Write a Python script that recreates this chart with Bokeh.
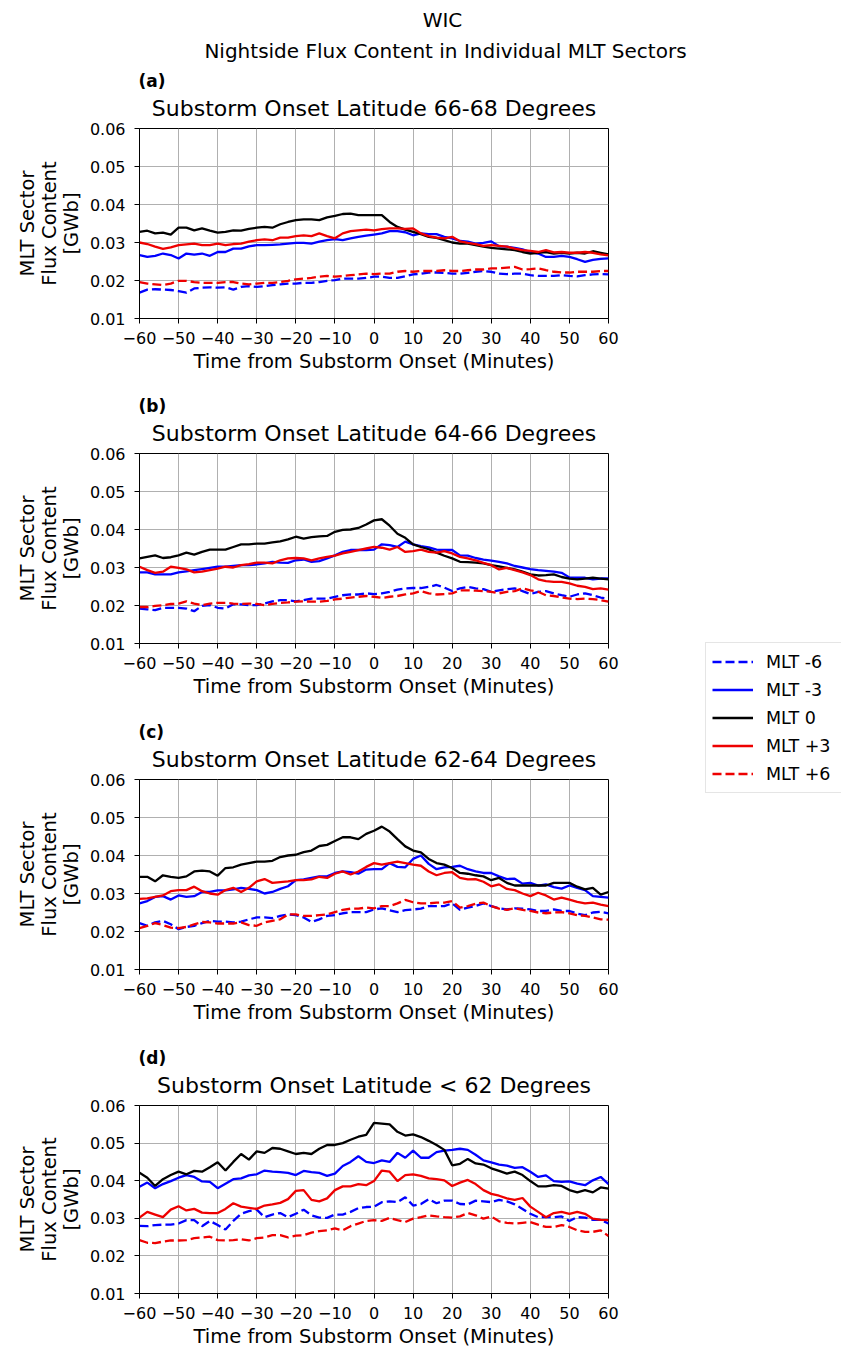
from bokeh.plotting import figure
from bokeh.models import (Range1d, FixedTicker, PrintfTickFormatter, CustomJSTickFormatter,
                          Legend, LegendItem)
from bokeh.core.properties import value
from bokeh.layouts import row, column
from bokeh.embed import file_html
from bokeh.resources import INLINE

FONT = "DejaVu Sans"

# ---------------- data ----------------
minutes = list(range(-60, 61, 2))

sector_labels = ["MLT -6", "MLT -3", "MLT 0", "MLT +3", "MLT +6"]
panel_tags = ["(a)", "(b)", "(c)", "(d)"]
panel_titles = ["Substorm Onset Latitude 66-68 Degrees",
                "Substorm Onset Latitude 64-66 Degrees",
                "Substorm Onset Latitude 62-64 Degrees",
                "Substorm Onset Latitude < 62 Degrees"]
main_title = ["WIC", "Nightside Flux Content in Individual MLT Sectors"]
x_ticks = [-60, -50, -40, -30, -20, -10, 0, 10, 20, 30, 40, 50, 60]
y_ticks = [0.01, 0.02, 0.03, 0.04, 0.05, 0.06]

# Panel (a) 66-68
a_m6 = [0.0168, 0.0176, 0.0177, 0.0176, 0.0175, 0.0172, 0.0168, 0.0179, 0.0181, 0.0182,
        0.0181, 0.0182, 0.0176, 0.0183, 0.0185, 0.0183, 0.0185, 0.0188, 0.0190, 0.0192,
        0.0192, 0.0194, 0.0194, 0.0196, 0.0199, 0.0201, 0.0205, 0.0205, 0.0205, 0.0207,
        0.0210, 0.0210, 0.0207, 0.0207, 0.0211, 0.0216, 0.0218, 0.0221, 0.0221, 0.0220,
        0.0218, 0.0218, 0.0220, 0.0223, 0.0225, 0.0223, 0.0218, 0.0217, 0.0218, 0.0218,
        0.0214, 0.0212, 0.0212, 0.0212, 0.0214, 0.0212, 0.0211, 0.0214, 0.0216, 0.0217,
        0.0216]
a_m3 = [0.0267, 0.0262, 0.0265, 0.0271, 0.0267, 0.0258, 0.0271, 0.0268, 0.0271, 0.0265,
        0.0275, 0.0275, 0.0284, 0.0284, 0.0290, 0.0293, 0.0293, 0.0294, 0.0295, 0.0297,
        0.0299, 0.0299, 0.0297, 0.0302, 0.0306, 0.0309, 0.0306, 0.0311, 0.0315, 0.0318,
        0.0321, 0.0324, 0.0330, 0.0330, 0.0327, 0.0319, 0.0324, 0.0322, 0.0322, 0.0315,
        0.0311, 0.0304, 0.0302, 0.0297, 0.0299, 0.0303, 0.0290, 0.0289, 0.0286, 0.0282,
        0.0275, 0.0271, 0.0262, 0.0262, 0.0265, 0.0262, 0.0256, 0.0249, 0.0254, 0.0257,
        0.0258]
a_0 = [0.0328, 0.0331, 0.0324, 0.0326, 0.0321, 0.0339, 0.0339, 0.0332, 0.0337, 0.0331,
       0.0326, 0.0328, 0.0332, 0.0331, 0.0336, 0.0339, 0.0341, 0.0339, 0.0348, 0.0354,
       0.0359, 0.0361, 0.0361, 0.0359, 0.0366, 0.0370, 0.0375, 0.0376, 0.0372, 0.0372,
       0.0372, 0.0372, 0.0354, 0.0341, 0.0334, 0.0328, 0.0322, 0.0315, 0.0312, 0.0306,
       0.0300, 0.0297, 0.0297, 0.0293, 0.0289, 0.0286, 0.0284, 0.0282, 0.0280, 0.0275,
       0.0271, 0.0273, 0.0275, 0.0271, 0.0273, 0.0271, 0.0273, 0.0271, 0.0277, 0.0273,
       0.0269]
a_p3 = [0.0300, 0.0296, 0.0289, 0.0283, 0.0287, 0.0293, 0.0295, 0.0297, 0.0293, 0.0293,
        0.0297, 0.0293, 0.0296, 0.0297, 0.0302, 0.0306, 0.0308, 0.0306, 0.0313, 0.0313,
        0.0317, 0.0319, 0.0317, 0.0324, 0.0317, 0.0311, 0.0324, 0.0330, 0.0332, 0.0334,
        0.0332, 0.0335, 0.0337, 0.0337, 0.0336, 0.0337, 0.0324, 0.0317, 0.0313, 0.0311,
        0.0315, 0.0303, 0.0299, 0.0296, 0.0291, 0.0293, 0.0291, 0.0289, 0.0284, 0.0280,
        0.0278, 0.0275, 0.0280, 0.0274, 0.0275, 0.0273, 0.0273, 0.0275, 0.0273, 0.0269,
        0.0266]
a_p6 = [0.0196, 0.0192, 0.0190, 0.0188, 0.0192, 0.0199, 0.0199, 0.0196, 0.0194, 0.0194,
        0.0194, 0.0196, 0.0196, 0.0192, 0.0190, 0.0192, 0.0194, 0.0194, 0.0196, 0.0199,
        0.0203, 0.0205, 0.0207, 0.0210, 0.0212, 0.0210, 0.0212, 0.0214, 0.0216, 0.0218,
        0.0217, 0.0218, 0.0218, 0.0223, 0.0225, 0.0223, 0.0225, 0.0225, 0.0225, 0.0227,
        0.0225, 0.0225, 0.0227, 0.0229, 0.0229, 0.0232, 0.0232, 0.0234, 0.0236, 0.0229,
        0.0230, 0.0232, 0.0227, 0.0223, 0.0221, 0.0221, 0.0223, 0.0223, 0.0223, 0.0225,
        0.0225]

# Panel (b) 64-66
b_m6 = [0.0192, 0.0190, 0.0188, 0.0194, 0.0194, 0.0194, 0.0192, 0.0185, 0.0199, 0.0201,
        0.0194, 0.0192, 0.0203, 0.0203, 0.0201, 0.0201, 0.0205, 0.0211, 0.0214, 0.0214,
        0.0211, 0.0214, 0.0218, 0.0218, 0.0218, 0.0223, 0.0227, 0.0229, 0.0229, 0.0232,
        0.0230, 0.0232, 0.0236, 0.0242, 0.0245, 0.0246, 0.0246, 0.0249, 0.0254, 0.0247,
        0.0238, 0.0245, 0.0249, 0.0245, 0.0243, 0.0236, 0.0240, 0.0243, 0.0245, 0.0238,
        0.0230, 0.0236, 0.0238, 0.0232, 0.0227, 0.0223, 0.0229, 0.0232, 0.0227, 0.0221,
        0.0218]
b_m3 = [0.0287, 0.0287, 0.0282, 0.0282, 0.0282, 0.0287, 0.0290, 0.0293, 0.0296, 0.0299,
        0.0302, 0.0302, 0.0304, 0.0306, 0.0306, 0.0308, 0.0311, 0.0315, 0.0313, 0.0312,
        0.0319, 0.0321, 0.0315, 0.0317, 0.0324, 0.0332, 0.0341, 0.0346, 0.0346, 0.0346,
        0.0347, 0.0361, 0.0359, 0.0354, 0.0368, 0.0361, 0.0356, 0.0353, 0.0347, 0.0346,
        0.0346, 0.0332, 0.0331, 0.0325, 0.0321, 0.0318, 0.0315, 0.0311, 0.0304, 0.0300,
        0.0296, 0.0293, 0.0291, 0.0289, 0.0286, 0.0274, 0.0273, 0.0273, 0.0269, 0.0271,
        0.0271]
b_0 = [0.0324, 0.0328, 0.0332, 0.0325, 0.0327, 0.0332, 0.0339, 0.0334, 0.0341, 0.0347,
       0.0347, 0.0347, 0.0354, 0.0361, 0.0361, 0.0363, 0.0363, 0.0366, 0.0369, 0.0374,
       0.0381, 0.0376, 0.0380, 0.0382, 0.0383, 0.0394, 0.0399, 0.0400, 0.0404, 0.0413,
       0.0424, 0.0427, 0.0410, 0.0389, 0.0378, 0.0361, 0.0354, 0.0348, 0.0339, 0.0331,
       0.0324, 0.0315, 0.0314, 0.0313, 0.0311, 0.0306, 0.0303, 0.0299, 0.0295, 0.0289,
       0.0282, 0.0279, 0.0280, 0.0282, 0.0275, 0.0271, 0.0269, 0.0271, 0.0273, 0.0271,
       0.0269]
b_p3 = [0.0302, 0.0293, 0.0286, 0.0289, 0.0302, 0.0299, 0.0295, 0.0287, 0.0289, 0.0293,
        0.0297, 0.0302, 0.0300, 0.0306, 0.0309, 0.0313, 0.0313, 0.0311, 0.0319, 0.0324,
        0.0325, 0.0324, 0.0319, 0.0324, 0.0328, 0.0331, 0.0337, 0.0341, 0.0346, 0.0350,
        0.0354, 0.0352, 0.0347, 0.0354, 0.0341, 0.0343, 0.0347, 0.0341, 0.0339, 0.0343,
        0.0337, 0.0328, 0.0324, 0.0319, 0.0312, 0.0306, 0.0295, 0.0299, 0.0293, 0.0287,
        0.0280, 0.0269, 0.0264, 0.0262, 0.0262, 0.0258, 0.0252, 0.0249, 0.0243, 0.0245,
        0.0242]
b_p6 = [0.0196, 0.0196, 0.0199, 0.0201, 0.0204, 0.0205, 0.0211, 0.0205, 0.0201, 0.0205,
        0.0207, 0.0207, 0.0205, 0.0204, 0.0205, 0.0204, 0.0201, 0.0204, 0.0207, 0.0208,
        0.0210, 0.0211, 0.0210, 0.0210, 0.0212, 0.0216, 0.0218, 0.0221, 0.0223, 0.0225,
        0.0223, 0.0220, 0.0223, 0.0225, 0.0229, 0.0232, 0.0238, 0.0232, 0.0229, 0.0230,
        0.0232, 0.0240, 0.0240, 0.0239, 0.0238, 0.0236, 0.0232, 0.0236, 0.0238, 0.0245,
        0.0240, 0.0236, 0.0227, 0.0225, 0.0221, 0.0218, 0.0217, 0.0218, 0.0217, 0.0214,
        0.0210]

# Panel (c) 62-64
c_m6 = [0.0222, 0.0215, 0.0224, 0.0228, 0.0219, 0.0206, 0.0212, 0.0215, 0.0222, 0.0228,
        0.0226, 0.0226, 0.0224, 0.0226, 0.0232, 0.0237, 0.0237, 0.0235, 0.0241, 0.0245,
        0.0243, 0.0237, 0.0225, 0.0232, 0.0241, 0.0243, 0.0248, 0.0251, 0.0251, 0.0251,
        0.0258, 0.0261, 0.0256, 0.0251, 0.0256, 0.0258, 0.0260, 0.0267, 0.0267, 0.0267,
        0.0274, 0.0257, 0.0263, 0.0267, 0.0274, 0.0267, 0.0261, 0.0258, 0.0261, 0.0260,
        0.0258, 0.0254, 0.0254, 0.0258, 0.0254, 0.0254, 0.0247, 0.0243, 0.0250, 0.0252,
        0.0248]
c_m3 = [0.0274, 0.0280, 0.0291, 0.0293, 0.0284, 0.0295, 0.0291, 0.0293, 0.0304, 0.0304,
        0.0308, 0.0308, 0.0311, 0.0315, 0.0312, 0.0309, 0.0300, 0.0304, 0.0312, 0.0319,
        0.0335, 0.0337, 0.0341, 0.0345, 0.0345, 0.0354, 0.0358, 0.0356, 0.0352, 0.0363,
        0.0364, 0.0364, 0.0380, 0.0370, 0.0369, 0.0391, 0.0400, 0.0378, 0.0364, 0.0369,
        0.0370, 0.0373, 0.0364, 0.0358, 0.0354, 0.0354, 0.0345, 0.0338, 0.0339, 0.0326,
        0.0328, 0.0321, 0.0324, 0.0317, 0.0313, 0.0321, 0.0315, 0.0309, 0.0293, 0.0291,
        0.0289]
c_0 = [0.0344, 0.0344, 0.0332, 0.0348, 0.0344, 0.0341, 0.0345, 0.0358, 0.0360, 0.0358,
       0.0347, 0.0367, 0.0369, 0.0376, 0.0380, 0.0384, 0.0384, 0.0386, 0.0396, 0.0400,
       0.0402, 0.0409, 0.0413, 0.0425, 0.0428, 0.0438, 0.0448, 0.0448, 0.0443, 0.0457,
       0.0465, 0.0476, 0.0463, 0.0443, 0.0424, 0.0413, 0.0408, 0.0391, 0.0380, 0.0376,
       0.0367, 0.0354, 0.0352, 0.0348, 0.0345, 0.0335, 0.0341, 0.0328, 0.0321, 0.0321,
       0.0321, 0.0321, 0.0321, 0.0328, 0.0328, 0.0328, 0.0318, 0.0311, 0.0315, 0.0297,
       0.0304]
c_p3 = [0.0286, 0.0287, 0.0291, 0.0295, 0.0306, 0.0309, 0.0309, 0.0318, 0.0306, 0.0300,
        0.0297, 0.0309, 0.0315, 0.0304, 0.0315, 0.0332, 0.0338, 0.0328, 0.0330, 0.0332,
        0.0335, 0.0335, 0.0337, 0.0344, 0.0341, 0.0352, 0.0358, 0.0350, 0.0358, 0.0370,
        0.0380, 0.0376, 0.0380, 0.0384, 0.0380, 0.0376, 0.0373, 0.0358, 0.0348, 0.0354,
        0.0356, 0.0341, 0.0337, 0.0338, 0.0331, 0.0319, 0.0324, 0.0312, 0.0309, 0.0300,
        0.0293, 0.0302, 0.0295, 0.0284, 0.0289, 0.0284, 0.0278, 0.0274, 0.0276, 0.0271,
        0.0267]
c_p6 = [0.0209, 0.0215, 0.0222, 0.0217, 0.0210, 0.0209, 0.0212, 0.0219, 0.0225, 0.0224,
        0.0221, 0.0221, 0.0221, 0.0224, 0.0217, 0.0215, 0.0224, 0.0228, 0.0232, 0.0245,
        0.0245, 0.0241, 0.0241, 0.0243, 0.0245, 0.0251, 0.0257, 0.0260, 0.0260, 0.0263,
        0.0261, 0.0267, 0.0267, 0.0274, 0.0283, 0.0277, 0.0274, 0.0274, 0.0276, 0.0276,
        0.0280, 0.0263, 0.0267, 0.0273, 0.0276, 0.0267, 0.0260, 0.0257, 0.0261, 0.0257,
        0.0254, 0.0250, 0.0248, 0.0250, 0.0251, 0.0248, 0.0243, 0.0241, 0.0237, 0.0232,
        0.0231]

# Panel (d) < 62
d_m6 = [0.0280, 0.0279, 0.0282, 0.0283, 0.0283, 0.0286, 0.0295, 0.0295, 0.0279, 0.0293,
        0.0282, 0.0270, 0.0293, 0.0312, 0.0319, 0.0323, 0.0303, 0.0310, 0.0314, 0.0303,
        0.0312, 0.0323, 0.0308, 0.0302, 0.0301, 0.0310, 0.0310, 0.0317, 0.0327, 0.0330,
        0.0331, 0.0343, 0.0345, 0.0343, 0.0356, 0.0334, 0.0338, 0.0351, 0.0340, 0.0347,
        0.0347, 0.0338, 0.0337, 0.0347, 0.0345, 0.0343, 0.0349, 0.0345, 0.0337, 0.0325,
        0.0312, 0.0303, 0.0303, 0.0303, 0.0305, 0.0293, 0.0303, 0.0302, 0.0296, 0.0296,
        0.0286]
d_m3 = [0.0384, 0.0395, 0.0380, 0.0391, 0.0399, 0.0408, 0.0415, 0.0410, 0.0398, 0.0397,
        0.0380, 0.0392, 0.0404, 0.0406, 0.0414, 0.0417, 0.0427, 0.0424, 0.0423, 0.0421,
        0.0415, 0.0426, 0.0423, 0.0421, 0.0413, 0.0419, 0.0439, 0.0450, 0.0465, 0.0450,
        0.0447, 0.0454, 0.0450, 0.0474, 0.0461, 0.0480, 0.0461, 0.0461, 0.0476, 0.0480,
        0.0482, 0.0485, 0.0482, 0.0469, 0.0454, 0.0449, 0.0443, 0.0440, 0.0434, 0.0436,
        0.0424, 0.0410, 0.0414, 0.0399, 0.0397, 0.0398, 0.0392, 0.0388, 0.0401, 0.0410,
        0.0391]
d_0 = [0.0421, 0.0408, 0.0386, 0.0404, 0.0415, 0.0424, 0.0417, 0.0426, 0.0424, 0.0436,
       0.0449, 0.0427, 0.0450, 0.0471, 0.0456, 0.0478, 0.0474, 0.0487, 0.0485, 0.0478,
       0.0471, 0.0474, 0.0471, 0.0485, 0.0495, 0.0495, 0.0500, 0.0509, 0.0517, 0.0522,
       0.0554, 0.0552, 0.0550, 0.0530, 0.0520, 0.0523, 0.0516, 0.0506, 0.0495, 0.0482,
       0.0441, 0.0445, 0.0458, 0.0446, 0.0443, 0.0433, 0.0426, 0.0419, 0.0424, 0.0415,
       0.0399, 0.0385, 0.0385, 0.0388, 0.0386, 0.0375, 0.0369, 0.0375, 0.0369, 0.0382,
       0.0379]
d_p3 = [0.0302, 0.0317, 0.0310, 0.0303, 0.0323, 0.0332, 0.0321, 0.0325, 0.0315, 0.0314,
        0.0314, 0.0325, 0.0340, 0.0331, 0.0328, 0.0325, 0.0334, 0.0337, 0.0341, 0.0351,
        0.0373, 0.0375, 0.0349, 0.0345, 0.0353, 0.0375, 0.0385, 0.0385, 0.0391, 0.0388,
        0.0399, 0.0427, 0.0424, 0.0399, 0.0415, 0.0417, 0.0413, 0.0406, 0.0404, 0.0401,
        0.0386, 0.0395, 0.0402, 0.0391, 0.0375, 0.0365, 0.0360, 0.0353, 0.0349, 0.0354,
        0.0331, 0.0317, 0.0303, 0.0314, 0.0317, 0.0312, 0.0317, 0.0312, 0.0299, 0.0296,
        0.0295]
d_p6 = [0.0242, 0.0235, 0.0234, 0.0238, 0.0241, 0.0241, 0.0242, 0.0247, 0.0249, 0.0251,
        0.0242, 0.0241, 0.0242, 0.0244, 0.0241, 0.0247, 0.0249, 0.0255, 0.0255, 0.0249,
        0.0254, 0.0255, 0.0262, 0.0266, 0.0268, 0.0273, 0.0268, 0.0279, 0.0286, 0.0293,
        0.0295, 0.0293, 0.0301, 0.0295, 0.0290, 0.0299, 0.0303, 0.0308, 0.0305, 0.0303,
        0.0302, 0.0305, 0.0314, 0.0308, 0.0299, 0.0305, 0.0292, 0.0288, 0.0286, 0.0288,
        0.0290, 0.0283, 0.0277, 0.0277, 0.0282, 0.0277, 0.0268, 0.0264, 0.0264, 0.0268,
        0.0253]

panels_data = [
    [a_m6, a_m3, a_0, a_p3, a_p6],
    [b_m6, b_m3, b_0, b_p3, b_p6],
    [c_m6, c_m3, c_0, c_p3, c_p6],
    [d_m6, d_m3, d_0, d_p3, d_p6],
]

# ---------------- styles / geometry ----------------
line_colors = ["#0000ff", "#0000ff", "#000000", "#ee0000", "#ee0000"]
line_dashes = ["9 4", "solid", "solid", "solid", "9 4"]
LW = 2.3

PAGE_W = 841
FRAME_H = 190
FRAME_W = 469
LEFT_B = 139
RIGHT_B = 12
COL_W = LEFT_B + FRAME_W + RIGHT_B
TOP_B = 8
header_h = [120, 62, 62, 62]
bottom_b = [65, 66, 66, 55]

x_fmt = CustomJSTickFormatter(code="return tick < 0 ? '\\u2212' + String(-tick) : String(tick);")


def make_header(i, width):
    h = header_h[i]
    hd = figure(width=width, height=h, x_range=Range1d(0, width), y_range=Range1d(h, 0),
                x_axis_type=None, y_axis_type=None, output_backend="svg",
                toolbar_location=None, min_border=0, title=None)
    hd.frame_align = False
    hd.outline_line_color = None
    hd.grid.visible = False
    ft = h + TOP_B  # frame top of the panel below, in header coordinates
    if i == 0:
        hd.text(x=[442, 445], y=[19, 50], text=main_title, text_font=value(FONT),
                text_font_size="20px", text_color="black", text_align="center",
                text_baseline="middle")
    hd.text(x=[LEFT_B - 1], y=[ft - 48], text=[panel_tags[i]], text_font=value(FONT),
            text_font_size="17px", text_font_style="bold", text_color="black",
            text_align="left", text_baseline="middle")
    hd.text(x=[LEFT_B + FRAME_W / 2], y=[ft - 20], text=[panel_titles[i]],
            text_font=value(FONT), text_font_size="22px", text_color="black",
            text_align="center", text_baseline="middle")
    return hd


def make_panel(i):
    h = TOP_B + FRAME_H + bottom_b[i]
    p = figure(width=COL_W, height=h,
               x_range=Range1d(-60, 60), y_range=Range1d(0.01, 0.06),
               output_backend="svg", toolbar_location=None, title=None,
               min_border_left=LEFT_B, min_border_right=RIGHT_B,
               min_border_top=TOP_B, min_border_bottom=bottom_b[i])
    p.background_fill_color = "white"
    p.border_fill_color = "white"
    p.outline_line_color = "black"
    p.outline_line_width = 1
    p.outline_line_alpha = 1

    p.xaxis.ticker = FixedTicker(ticks=x_ticks)
    p.yaxis.ticker = FixedTicker(ticks=y_ticks)
    p.xaxis.formatter = x_fmt
    p.yaxis.formatter = PrintfTickFormatter(format="%.2f")
    p.xgrid.ticker = FixedTicker(ticks=x_ticks)
    p.ygrid.ticker = FixedTicker(ticks=y_ticks)
    p.grid.grid_line_color = "#b0b0b0"
    p.grid.grid_line_width = 1

    for ax in (p.xaxis[0], p.yaxis[0]):
        ax.axis_line_color = "black"
        ax.axis_line_width = 1
        ax.major_tick_line_color = "black"
        ax.major_tick_line_width = 1
        ax.major_tick_out = 5
        ax.major_tick_in = 0
        ax.minor_tick_line_color = None
        ax.major_label_text_font = FONT
        ax.major_label_text_font_size = "16px"
        ax.major_label_text_color = "black"
        ax.axis_label_text_font = FONT
        ax.axis_label_text_font_size = "19.5px"
        ax.axis_label_text_font_style = "normal"
        ax.axis_label_text_color = "black"

    p.xaxis.axis_label = "Time from Substorm Onset (Minutes)"
    p.xaxis.major_label_standoff = 8
    p.xaxis.axis_label_standoff = 3
    p.yaxis.axis_label = "MLT Sector\nFlux Content\n[GWb]"
    p.yaxis.major_label_standoff = 9
    p.yaxis.axis_label_standoff = 4
    p.yaxis.axis_label_text_align = "center"
    p.yaxis.axis_label_text_line_height = 0.95

    for vals, col, dash in zip(panels_data[i], line_colors, line_dashes):
        p.line(minutes, vals, line_color=col, line_width=LW, line_dash=dash)
    return p


# full-width header with the super title and panel (a) heading
top_header = make_header(0, PAGE_W)

col_children = [make_panel(0)]
for i in range(1, 4):
    col_children.append(make_header(i, COL_W))
    col_children.append(make_panel(i))

# ---------------- legend figure ----------------
body_h = sum(header_h[1:]) + sum(TOP_B + FRAME_H + b for b in bottom_b)
leg_w = PAGE_W - COL_W
lf = figure(width=leg_w, height=body_h, output_backend="svg", toolbar_location=None,
            x_range=Range1d(0, 1), y_range=Range1d(0, 1), x_axis_type=None, y_axis_type=None,
            min_border=0, title=None)
lf.frame_align = False
lf.outline_line_color = None
lf.grid.visible = False

items = []
for lab, col, dash in zip(sector_labels, line_colors, line_dashes):
    # proxy renderer placed outside the visible range, only used for the legend key
    r = lf.line([-5, -4], [-5, -5], line_color=col, line_width=LW, line_dash=dash)
    items.append(LegendItem(label=lab, renderers=[r]))

LEG_H = 2 * 6 + 5 * 25 + 4 * 3
LEG_TOP = 644 - header_h[0]
legend = Legend(items=items, location=(85, body_h - LEG_TOP - LEG_H),
                label_text_font=FONT, label_text_font_size="17.5px", label_text_color="black",
                glyph_width=41, glyph_height=25, label_height=25, label_width=80,
                label_standoff=13, spacing=3, padding=6, margin=0,
                border_line_color="#cccccc", border_line_width=1,
                background_fill_color="white", background_fill_alpha=1)
lf.add_layout(legend)

layout = column(top_header,
                row(column(*col_children, spacing=0), lf, spacing=0),
                spacing=0)

open("out.html", "w").write(file_html(layout, INLINE))
